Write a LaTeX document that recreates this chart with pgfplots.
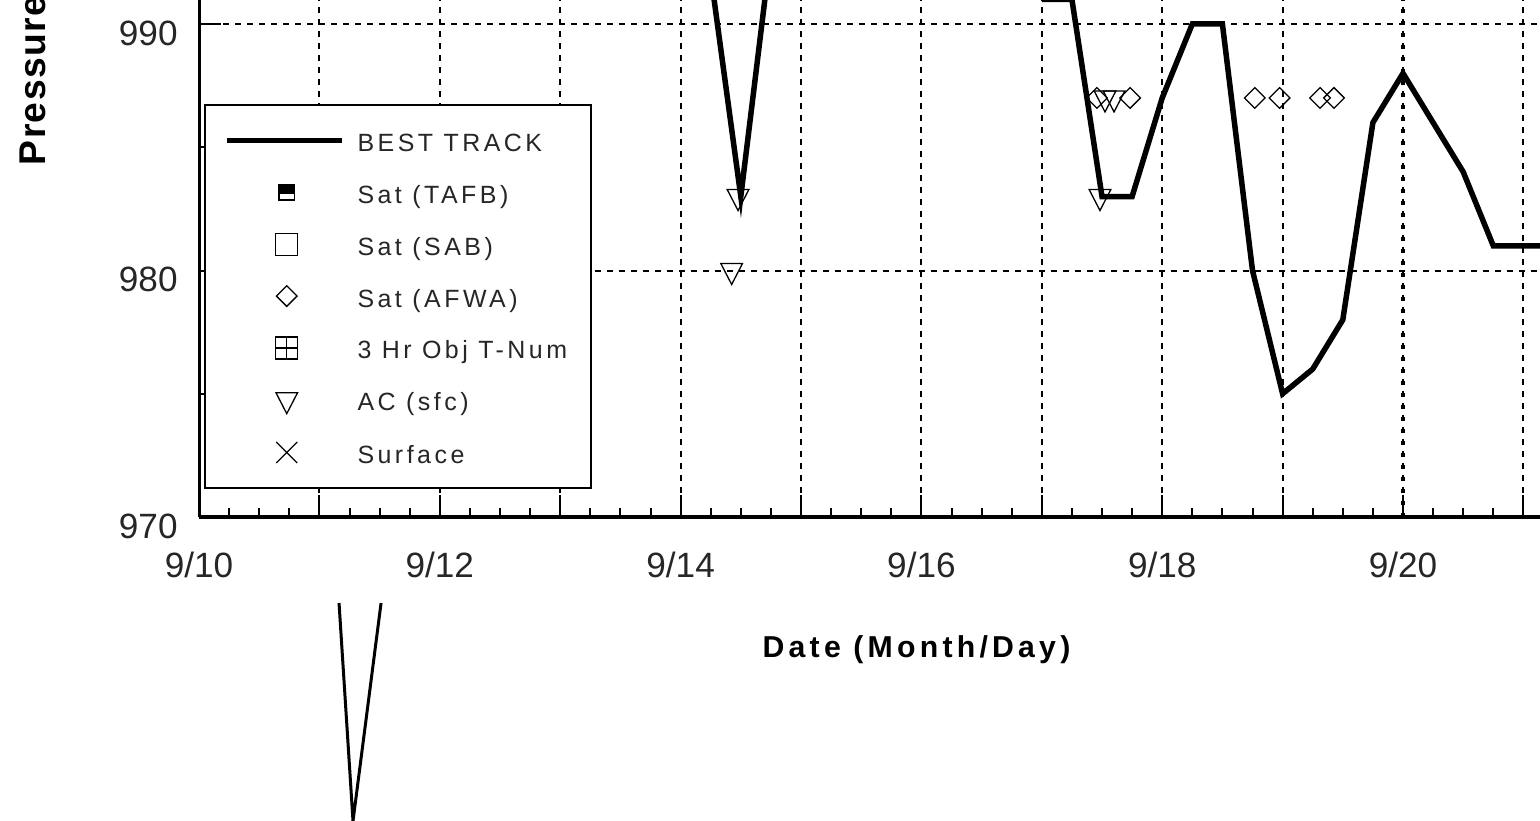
\documentclass[border=0pt]{standalone}
\usepackage{pgfplots}
\pgfplotsset{compat=1.18}
\usepackage{pgfplotstable}
\usepackage{fontspec}
\setmainfont{Liberation Sans}
\newfontfamily\legfont[LetterSpace=14]{Liberation Sans}
\newfontfamily\xlabfont[LetterSpace=14]{Liberation Sans}
\newfontfamily\ylabfont[LetterSpace=4]{Liberation Sans}

\pgfplotsset{
  lineleg/.style={legend image code/.code={\draw[##1] (0cm,0cm) -- (1.15cm,0cm);}},
  markleg/.style={legend image code/.code={\draw[##1] plot coordinates {(0.6cm,0cm)};}},
}

% x = days after 9/10 00 UTC, y = pressure (mb)
\pgfplotstableread{
x y
4.25 992
4.5 983
4.75 993
nan nan
7.0 991
7.25 991
7.5 983
7.75 983
8.0 987
8.25 990
8.5 990
8.75 980
9.0 975
9.25 976
9.5 978
9.75 986
10.0 988
10.25 986
10.5 984
10.75 981
11.0 981
11.25 981
11.5 981
}\besttrack

\pgfplotstableread{
x y
7.458 987
7.733 987
8.769 987
8.975 987
9.311 987
9.427 987
}\afwa

\pgfplotstableread{
x y
4.424 980
4.477 983
7.483 983
7.525 987
7.600 987
}\acsfc

\pgfplotstableread{
x y
1.163 966.51
1.279 957.67
1.512 966.51
}\pointer

\begin{document}
\begin{tikzpicture}
\begin{axis}[
  x=1.204cm, y=0.2465cm,
  xmin=0, xmax=12, ymin=970, ymax=991,
  axis lines=left,
  axis line style={-, black},
  x axis line style={line width=0.04cm},
  y axis line style={line width=0.03cm},
  clip=false,
  unbounded coords=jump,
  xtick={0,1,...,12},
  xticklabels={9/10,,9/12,,9/14,,9/16,,9/18,,9/20,,},
  minor x tick num=3,
  ytick={970,980,990},
  minor ytick={975,985},
  tick align=inside,
  major tick length=0.22cm,
  minor tick length=0.09cm,
  tick style={line width=0.02cm, black},
  xmajorgrids, ymajorgrids,
  major grid style={line width=0.02cm, black, dash pattern=on 0.06cm off 0.06cm},
  extra x ticks={10},
  extra x tick labels={},
  extra x tick style={major grid style={line width=0.035cm, black, dash pattern=on 0.04cm off 0.08cm}},
  tick label style={font=\fontsize{10}{12}\selectfont, text=black!85},
  /pgf/number format/assume math mode=true,
  yticklabel style={xshift=-0.09cm, yshift=-0.09cm},
  xticklabel style={yshift=-0.23cm},
  xlabel={Date (Month/Day)},
  xlabel style={at={(axis description cs:0.4966,-0.2705)}, anchor=base, inner sep=0pt,
    font=\xlabfont\bfseries\fontsize{8.6}{10}\selectfont, text=black},
  ylabel={Pressure (mb)},
  ylabel style={at={(axis description cs:-0.1066,0.678)}, anchor=base west, inner sep=0pt,
    font=\ylabfont\bfseries\fontsize{10.6}{12}\selectfont, text=black},
  legend cell align=left,
  legend style={at={(axis description cs:0.00346,0.7979)}, anchor=north west,
    draw=black, line width=0.02cm, fill=white,
    inner xsep=0.19cm, inner ysep=0.227cm,
    row sep=0.258cm, column sep=0.13cm,
    font=\legfont\fontsize{7.1}{8.5}\selectfont, text=black!85,
    nodes={inner sep=0pt, text height=0.24cm, text depth=0.02cm}},
]
% Best track
\addplot[black, line width=0.055cm, lineleg] table[x=x,y=y] {\besttrack};
\addlegendentry{BEST TRACK}
% Sat (TAFB) - no data in this window
\addlegendimage{legend image code/.code={
  \fill[black] (0.525cm,-0.075cm) rectangle (0.675cm,0.075cm);
  \fill[white] (0.542cm,-0.06cm) rectangle (0.658cm,-0.03cm);}}
\addlegendentry{Sat (TAFB)}
% Sat (SAB)
\addlegendimage{legend image code/.code={
  \draw[black, line width=0.013cm] (0.49cm,-0.11cm) rectangle (0.71cm,0.11cm);}}
\addlegendentry{Sat (SAB)}
% Sat (AFWA)
\addplot[only marks, mark=square, mark size=0.073cm,
  mark options={rotate=45, fill=white, draw=black, line width=0.013cm}, markleg]
  table[x=x,y=y] {\afwa};
\addlegendentry{Sat (AFWA)}
% 3 Hr Obj T-Num
\addlegendimage{legend image code/.code={
  \draw[black, line width=0.013cm] (0.49cm,-0.11cm) rectangle (0.71cm,0.11cm);
  \draw[black, line width=0.013cm] (0.6cm,-0.11cm) -- (0.6cm,0.11cm);
  \draw[black, line width=0.013cm] (0.49cm,0cm) -- (0.71cm,0cm);}}
\addlegendentry{3 Hr Obj T-Num\hspace*{0.05cm}}
% AC (sfc)
\addplot[only marks, mark=triangle, mark size=0.125cm,
  mark options={rotate=180, yscale=1.12, fill=white, draw=black, line width=0.013cm}, markleg]
  table[x=x,y=y] {\acsfc};
\addlegendentry{AC (sfc)}
% Surface
\addlegendimage{legend image code/.code={
  \draw[black, line width=0.013cm] (0.495cm,-0.105cm) -- (0.705cm,0.105cm);
  \draw[black, line width=0.013cm] (0.495cm,0.105cm) -- (0.705cm,-0.105cm);}}
\addlegendentry{Surface}
% pointer line below the chart
\addplot[black, line width=0.03cm, forget plot] table[x=x,y=y] {\pointer};
\coordinate (pgBL) at (axis cs:-1.653,957.67);
\coordinate (pgTR) at (axis cs:11.138,990.974);
\end{axis}
\pgfresetboundingbox
\useasboundingbox (pgBL) rectangle (pgTR);
\end{tikzpicture}
\end{document}
